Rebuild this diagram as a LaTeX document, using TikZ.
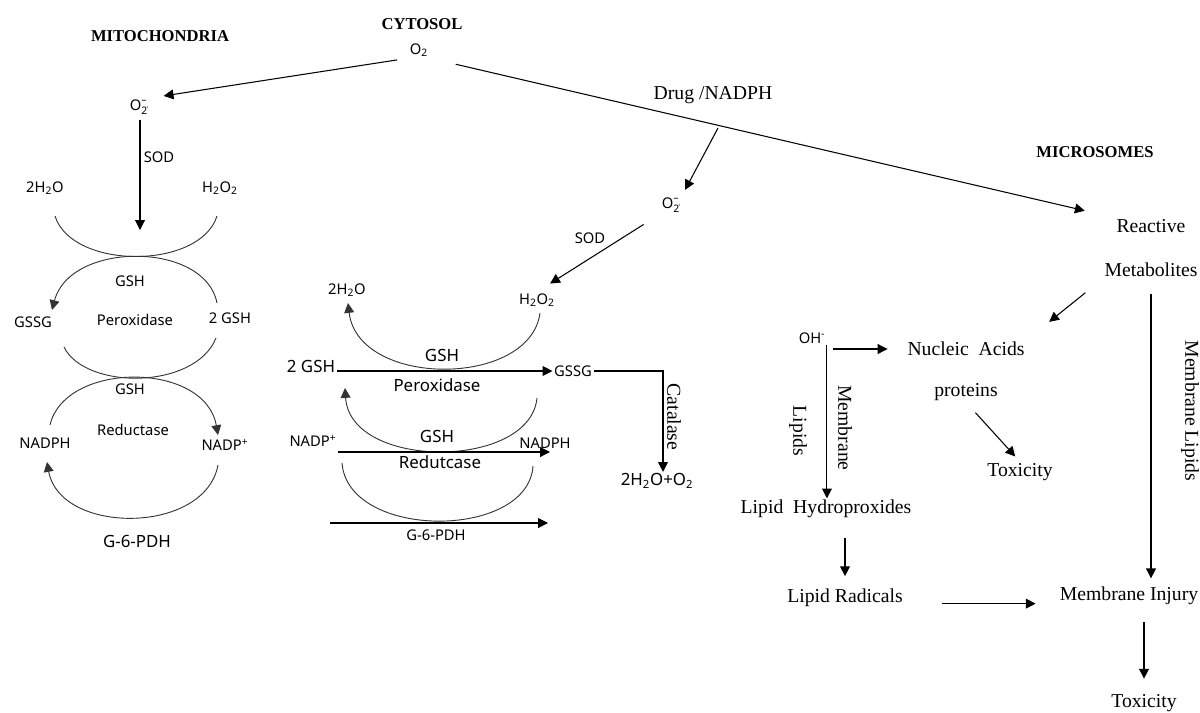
\documentclass[tikz,border=0pt]{standalone}
\usepackage{fontspec}
\usepackage{amsmath}
\setmainfont{Liberation Serif}
\newfontfamily\chemfont{Noto Sans}
\usetikzlibrary{arrows.meta, positioning, calc}

\newcommand{\supox}{$\text{O}_{\text{\.{2}}}^{\text{\textendash}}$}

\begin{document}
\begin{tikzpicture}[
    x=0.025cm, y=-0.025cm,
    region/.style={font=\bfseries\fontsize{11.8}{13}\selectfont, inner sep=1pt},
    chem/.style={font=\chemfont\fontsize{10.5}{12}\selectfont, inner sep=1pt},
    bigchem/.style={font=\chemfont\fontsize{12}{14}\selectfont, inner sep=1pt},
    txt/.style={font=\fontsize{14}{16}\selectfont, inner sep=1pt},
    arrow/.style={-{Triangle[length=7pt, width=7pt]}, line width=0.75pt},
    ring/.style={line width=0.65pt, draw=black!80},
]
\useasboundingbox (0,0) rectangle (1200,712);

% compartments
\node[region] (mito) at (160,36) {MITOCHONDRIA};
\node[region] (cyto) at (422,24) {CYTOSOL};
\node[region] (micro) at (1095,152) {MICROSOMES};

% mitochondria
\node[chem] (o2) at (419,50) {O\textsubscript{2}};
\node[chem] (supm) at (139,107) {\supox};
\node[chem] (sodm) at (159,157) {SOD};
\node[chem] (h2om) at (45,188) {2H\textsubscript{2}O};
\node[chem] (h2o2m) at (220,188) {H\textsubscript{2}O\textsubscript{2}};
\coordinate (sodtip) at (140,230);

\node[chem] (gsh1) at (130,281) {GSH};
\node[chem] (gssgm) at (33,322) {GSSG};
\node[chem] (perm) at (135,320) {Peroxidase};
\node[chem] (gsh2m) at (230,318) {2 GSH};
\node[chem] (gsh3) at (130,389) {GSH};
\node[chem] (redm) at (133,430) {Reductase};
\node[chem] (nadphm) at (45,443) {NADPH};
\node[chem] (nadpm) at (225,445) {NADP\textsuperscript{+}};
\node[bigchem] (g6pdm) at (137,541) {G-6-PDH};

\draw[arrow, shorten <=8pt, shorten >=10pt] (o2.south west) -- (supm.north east);
\draw[arrow, shorten <=3pt] (sodtip |- supm.south) -- (sodtip);

\draw[ring] (55,216) .. controls (72,270) and (200,270) .. (217,216);
\draw[arrow, ring] (217,303) .. controls (205,241) and (70,241) .. (52,310);
\draw[ring] (64,347) .. controls (85,390) and (195,390) .. (216,338);
\draw[arrow, ring] (50,425) .. controls (65,361) and (205,361) .. (218,435);
\draw[arrow, ring] (218,465) .. controls (205,535) and (60,535) .. (47,462);

% cytosol
\node[txt] (drug) at (713,95) {Drug /NADPH};
\coordinate (branch) at (718,128);
\node[chem] (supc) at (671,205) {\supox};
\node[chem] (sodc) at (590,238) {SOD};
\node[chem] (h2o2c) at (537,300) {H\textsubscript{2}O\textsubscript{2}};
\node[chem] (h2oc) at (347,290) {2H\textsubscript{2}O};

\node[bigchem] (gshc1) at (442,355) {GSH};
\node[bigchem] (gsh2c) at (311,366) {2 GSH};
\node[chem] (gssgc) at (573,371) {GSSG};
\node[bigchem] (perc) at (437,385) {Peroxidase};
\coordinate (catcorner) at (663,371);
\node[txt, rotate=-90] (catal) at (674,417) {Catalase};
\node[bigchem] (prodc) at (657,481) {2H\textsubscript{2}O+O\textsubscript{2}};

\node[bigchem] (gshc2) at (437,436) {GSH};
\node[chem] (nadpc) at (313,441) {NADP\textsuperscript{+}};
\node[chem] (nadphc) at (545,443) {NADPH};
\coordinate (nadptip) at (550,452);
\node[bigchem] (redc) at (440,462) {Redutcase};
\coordinate (g6tail) at (330,523);
\coordinate (g6tip) at (548,523);
\node[chem] (g6pdc) at (436,535) {G-6-PDH};

\draw[arrow, shorten >=5pt] (branch) -- (supc.north east);
\draw[arrow, shorten <=14pt, shorten >=11pt] (supc.south west) -- (h2o2c.north);
\draw[arrow, ring] (540,313) .. controls (530,388) and (358,388) .. (348,303);
\draw[arrow] (gsh2c.east |- gssgc) -- (gssgc.west);
\draw[arrow] (gssgc.east) -- (catcorner) -- (catcorner |- prodc.north);
\draw[arrow, ring] (537,398) .. controls (530,470) and (350,470) .. (345,388);
\draw[arrow] (nadpc.east |- nadptip) -- (nadptip);
\draw[ring] (342,463) .. controls (348,540) and (528,540) .. (533,466);
\draw[arrow] (g6tail) -- (g6tip);

% microsomes
\node[txt] (react) at (1151,226) {Reactive};
\node[txt] (metab) at (1151,270) {Metabolites};
\node[chem] (oh) at (812,338) {OH\textsuperscript{-}};
\node[txt] (nucl) at (966,349) {Nucleic\ \ Acids};
\node[txt] (prot) at (966,392) {proteins};
\node[txt] (toxa) at (1020,472) {Toxicity};
\node[txt, rotate=-90] (memb) at (845,428) {Membrane};
\node[txt, rotate=-90] (lipa) at (798,431) {Lipids};
\node[txt] (lhp) at (826,509) {Lipid\ \ Hydroproxides};
\node[txt] (lrad) at (845,598) {Lipid Radicals};
\node[txt] (minj) at (1129,596) {Membrane Injury};
\node[txt, rotate=-90] (mlip) at (1190,411) {Membrane Lipids};
\node[txt] (toxb) at (1144,703) {Toxicity};

\draw[arrow, shorten <=19pt, shorten >=22pt] (o2.south east) -- (react.north west);
\draw[arrow, shorten <=16pt, shorten >=21pt] (metab.south west) -- (nucl.north east);
\draw[arrow, shorten <=4pt, shorten >=13pt] (oh.east |- nucl.west) -- (nucl.west);
\draw[arrow] (oh.south east) -- (oh.south east |- lhp.north);
\draw[arrow, shorten <=10pt, shorten >=5pt] (prot.south) -- (toxa.north);
\draw[arrow, shorten <=11pt, shorten >=5pt] (metab.south) -- (metab.south |- minj.north);
\draw[arrow, shorten <=13pt, shorten >=8pt] (lhp.south -| lrad) -- (lrad.north);
\draw[arrow, shorten <=27pt, shorten >=16pt] ([yshift=-4pt]lrad.east) -- ([yshift=-4pt]lrad.east -| minj.west);
\draw[arrow, shorten <=11pt, shorten >=10pt] (minj.south -| toxb) -- (toxb.north);

\end{tikzpicture}
\end{document}
